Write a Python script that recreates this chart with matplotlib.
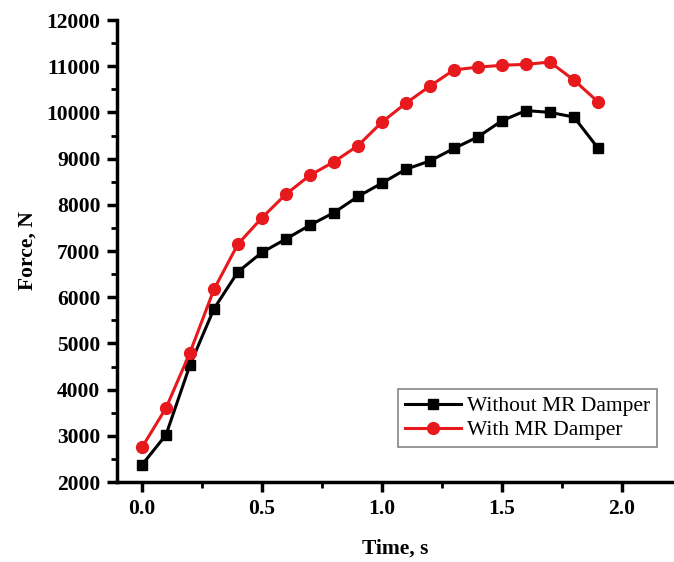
import matplotlib
matplotlib.use("Agg")
import matplotlib.pyplot as plt
from matplotlib.ticker import MultipleLocator

time_s = [0.0, 0.1, 0.2, 0.3, 0.4, 0.5, 0.6, 0.7, 0.8, 0.9, 1.0,
          1.1, 1.2, 1.3, 1.4, 1.5, 1.6, 1.7, 1.8, 1.9]
without_mr = [2370, 3020, 4530, 5750, 6550, 6970, 7260, 7560, 7830, 8180, 8470,
              8770, 8950, 9220, 9470, 9820, 10040, 10000, 9900, 9230]
with_mr = [2750, 3600, 4800, 6170, 7150, 7720, 8230, 8640, 8930, 9280, 9790,
           10200, 10570, 10920, 10980, 11020, 11040, 11090, 10700, 10230]
labels = ["Without MR Damper", "With MR Damper"]
x_ticks = [0.0, 0.5, 1.0, 1.5, 2.0]
y_ticks = list(range(2000, 12001, 1000))

plt.rcParams['font.family'] = ['Liberation Serif', 'DejaVu Serif']

fig = plt.figure(figsize=(6.74, 5.62), dpi=100)
ax = fig.add_axes([0.1736, 0.1423, 0.8264, 0.8221])

ax.plot(time_s, without_mr, color='black', lw=2.2, marker='s', ms=7.5, label=labels[0])
ax.plot(time_s, with_mr, color='#e8191c', lw=2.2, marker='o', ms=8.5, label=labels[1])

ax.set_xlim(-0.104, 2.217)
ax.set_ylim(2000, 12000)
ax.set_xticks(x_ticks)
ax.set_xticklabels([f"{v:.1f}" for v in x_ticks])
ax.set_yticks(y_ticks)
ax.xaxis.set_minor_locator(MultipleLocator(0.25))
ax.yaxis.set_minor_locator(MultipleLocator(500))

for s in ['top', 'right']:
    ax.spines[s].set_visible(False)
for s in ['left', 'bottom']:
    ax.spines[s].set_linewidth(2.5)

ax.tick_params(which='major', direction='out', length=7, width=2.5, labelsize=15.5, pad=5)
ax.tick_params(which='minor', direction='out', length=4, width=2)
for lab in ax.get_xticklabels() + ax.get_yticklabels():
    lab.set_fontweight('bold')

ax.set_xlabel("Time, s", fontsize=15.5, fontweight='bold', labelpad=14)
ax.set_ylabel("Force, N", fontsize=15.5, fontweight='bold', labelpad=6)

leg = ax.legend(loc='lower right', bbox_to_anchor=(0.97, 0.075), fontsize=15.5,
                frameon=True, fancybox=False, edgecolor='#666666',
                handlelength=2.6, handletextpad=0.3, borderpad=0.32,
                labelspacing=0.2, borderaxespad=0)
leg.get_frame().set_linewidth(1.2)

fig.savefig("out.png", dpi=100)
